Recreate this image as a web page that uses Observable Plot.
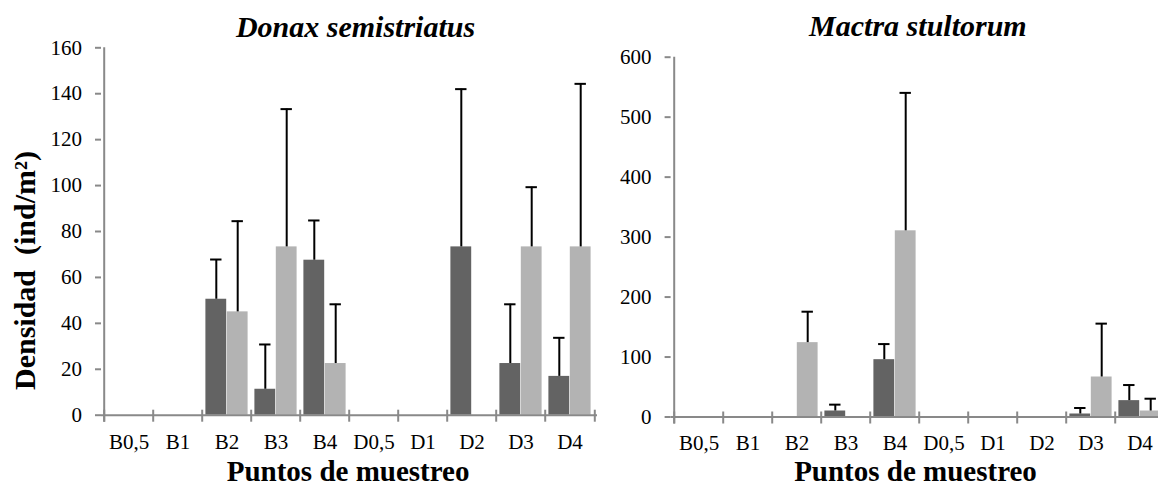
<!DOCTYPE html>
<html>
<head>
<meta charset="utf-8">
<script src="https://cdn.jsdelivr.net/npm/d3@7"></script>
<script src="https://cdn.jsdelivr.net/npm/@observablehq/plot@0.6"></script>
<style>
  html, body { margin: 0; padding: 0; background: #fff; }
  #fig { position: relative; width: 1158px; height: 488px; overflow: hidden; }
  #fig svg { position: absolute; top: 0; }
</style>
</head>
<body>
<div id="fig"></div>
<script>
// Puntos de muestreo
const puntos = ["B0,5", "B1", "B2", "B3", "B4", "D0,5", "D1", "D2", "D3", "D4"];

// Donax semistriatus: densidad media y desviación (ind/m²)
const donaxMedia1 = [0, 0, 50.5, 11.3, 67.5, 0, 0, 73.3, 22.5, 16.9];
const donaxDesv1  = [0, 0, 17.3, 19.5, 17.3, 0, 0, 68.7, 25.8, 16.8];
const donaxMedia2 = [0, 0, 45.0, 73.3, 22.5, 0, 0, 0, 73.3, 73.3];
const donaxDesv2  = [0, 0, 39.5, 60.0, 25.8, 0, 0, 0, 26.0, 71.0];

// Mactra stultorum: densidad media y desviación (ind/m²)
const mactraMedia1 = [0, 0, 0, 10, 95.6, 0, 0, 0, 5, 27.3];
const mactraDesv1  = [0, 0, 0, 10.6, 26, 0, 0, 0, 10, 26];
const mactraMedia2 = [0, 0, 124, 0, 310.5, 0, 0, 0, 66.7, 10];
const mactraDesv2  = [0, 0, 51.6, 0, 230, 0, 0, 0, 89, 20.5];

const ticksDonax = [0, 20, 40, 60, 80, 100, 120, 140, 160];
const ticksMactra = [0, 100, 200, 300, 400, 500, 600];

const tituloX = "Puntos de muestreo";
const tituloY = "Densidad\u00a0 (ind/m²)";

const oscuro = "#636363";
const claro = "#b3b3b3";
const gris = "#898989";
const fuente = "Liberation Serif";

function filas(media1, desv1, media2, desv2) {
  const out = [];
  puntos.forEach((p, i) => {
    out.push({punto: p, serie: 1, media: media1[i], sup: media1[i] + desv1[i]});
    out.push({punto: p, serie: 2, media: media2[i], sup: media2[i] + desv2[i]});
  });
  return out.filter(d => d.media > 0);
}

function panel(o) {
  const datos = filas(o.media1, o.desv1, o.media2, o.desv2);
  const s1 = datos.filter(d => d.serie === 1);
  const s2 = datos.filter(d => d.serie === 2);
  const bw = (o.width - o.marginLeft - o.marginRight) / puntos.length;
  const gap = 3.4;
  const barW = (bw - 2 * gap) / 2;
  const off = gap + barW / 2 - bw / 2; // centre of the first bar relative to band centre
  const cap = 6;
  const yMax = o.ticks[o.ticks.length - 1];
  const linea = {stroke: gris, strokeWidth: 2};
  const error = {stroke: "black", strokeWidth: 2};

  const marks = [
    Plot.barY(s1, {x: "punto", y: "media", fill: oscuro, insetLeft: gap, insetRight: gap + barW}),
    Plot.barY(s2, {x: "punto", y: "media", fill: claro, insetLeft: gap + barW, insetRight: gap}),
    Plot.ruleX(s1, {x: "punto", y1: "media", y2: "sup", dx: off, ...error}),
    Plot.ruleX(s2, {x: "punto", y1: "media", y2: "sup", dx: -off, ...error}),
    Plot.tickY(s1, {x: "punto", y: "sup", insetLeft: gap + barW / 2 - cap, insetRight: bw - gap - barW / 2 - cap, ...error}),
    Plot.tickY(s2, {x: "punto", y: "sup", insetLeft: gap + barW * 1.5 - cap, insetRight: bw - gap - barW * 1.5 - cap, ...error}),
    // axis lines and category boundary ticks
    Plot.ruleY([0], linea),
    Plot.ruleX([puntos[0]], {x: d => d, y1: yMax, y2: 0, dx: -bw / 2, insetBottom: -7, ...linea}),
    Plot.ruleX(puntos, {x: d => d, y1: 0, y2: 0, dx: -bw / 2, insetTop: -5, insetBottom: -7, ...linea}),
    Plot.ruleX([puntos[puntos.length - 1]], {x: d => d, y1: 0, y2: 0, dx: bw / 2, insetTop: -5, insetBottom: -7, ...linea}),
    Plot.axisY({ticks: o.ticks, tickSize: 6, tickPadding: 13.5, label: null, stroke: gris, strokeWidth: 2, fill: "black"}),
    Plot.axisX({tickSize: 0, tickPadding: 18.4, label: null, fill: "black"}),
    Plot.text([o.titulo], {text: d => d, frameAnchor: "top", lineAnchor: "bottom", dx: o.titleDx, dy: o.titleDy,
      fontSize: 30, fontWeight: "bold", fontStyle: "italic", fill: "black"}),
    Plot.text([tituloX], {text: d => d, frameAnchor: "bottom", lineAnchor: "bottom", dx: o.xlabelDx, dy: o.xlabelDy,
      fontSize: 29, fontWeight: "bold", fill: "black"})
  ];
  if (o.ylabel) {
    marks.push(Plot.text([tituloY], {text: d => d, frameAnchor: "left", textAnchor: "middle", lineAnchor: "bottom", rotate: -90,
      dx: o.ylabelDx, dy: o.ylabelDy, fontSize: 30, fontWeight: "bold", fill: "black"}));
  }

  const svg = Plot.plot({
    width: o.width,
    height: 488,
    marginLeft: o.marginLeft,
    marginRight: o.marginRight,
    marginTop: o.marginTop,
    marginBottom: o.marginBottom,
    style: {background: "transparent", fontFamily: fuente, fontSize: "21px", color: "black", overflow: "visible"},
    x: {domain: puntos, padding: 0},
    y: {domain: [0, yMax]},
    marks
  });
  svg.style.left = o.left + "px";
  return svg;
}

const fig = document.getElementById("fig");
fig.appendChild(panel({
  titulo: "Donax semistriatus",
  media1: donaxMedia1, desv1: donaxDesv1, media2: donaxMedia2, desv2: donaxDesv2,
  ticks: ticksDonax,
  left: 0, width: 620, marginLeft: 101, marginRight: 23, marginTop: 47.3, marginBottom: 73.3,
  titleDx: 6, titleDy: -11.3, xlabelDx: -1.4, xlabelDy: 65.3,
  ylabel: true, ylabelDx: -67, ylabelDy: 39
}));
fig.appendChild(panel({
  titulo: "Mactra stultorum",
  media1: mactraMedia1, desv1: mactraDesv1, media2: mactraMedia2, desv2: mactraDesv2,
  ticks: ticksMactra,
  left: 580, width: 600, marginLeft: 90.6, marginRight: 13.4, marginTop: 56.7, marginBottom: 71.5,
  titleDx: -1.2, titleDy: -21.7, xlabelDx: -3.6, xlabelDy: 63.5,
  ylabel: false
}));
</script>
</body>
</html>
